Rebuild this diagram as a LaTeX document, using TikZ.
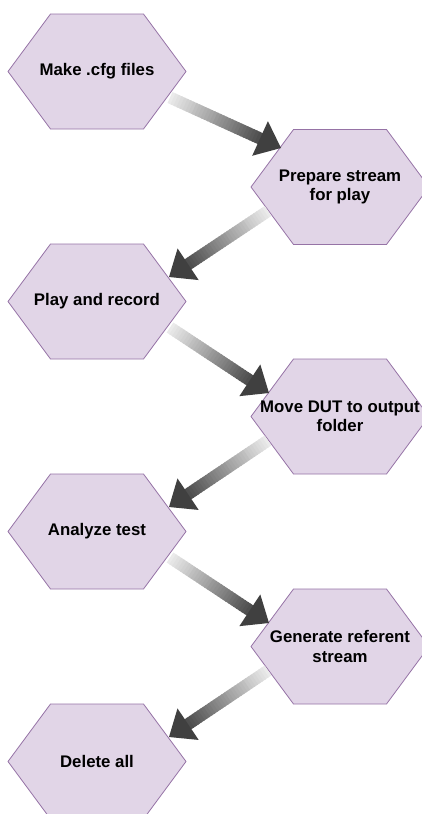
\documentclass[tikz,border=0pt]{standalone}
\usepackage{fontspec}
\setmainfont{Liberation Sans}
\usetikzlibrary{calc}

\definecolor{hexfill}{HTML}{E1D5E7}
\definecolor{hexline}{HTML}{9673A6}

% shaded block arrow: #1 = node, #2 = offset of the tail, #3 = node, #4 = offset of the tip
\newcommand{\flowarrow}[4]{%
  \coordinate (ta) at ($(#1)+(#2)$);
  \coordinate (tb) at ($(#3)+(#4)$);
  \coordinate (th) at ($(tb)!23pt!(ta)$);
  \foreach \i [evaluate=\i as \c using int(8+64*\i/30),
               evaluate=\i as \u using \i/30,
               evaluate=\i as \v using (\i+1.4)/30] in {0,...,29} {
    \coordinate (s0) at ($(ta)!\u!(th)$);
    \coordinate (s1) at ($(ta)!\v!(th)$);
    \fill [black!\c] ($(s0)!6pt!90:(tb)$) -- ($(s1)!6pt!90:(tb)$)
      -- ($(s1)!6pt!-90:(tb)$) -- ($(s0)!6pt!-90:(tb)$) -- cycle;
  }
  \fill [black!75] (tb) -- ($(th)!19pt!90:(tb)$) -- ($(th)!19pt!-90:(tb)$) -- cycle;
}

\begin{document}
\begin{tikzpicture}[x=1pt,y=-1pt,
  hexbox/.style={rectangle,minimum width=180pt,minimum height=117pt,inner sep=0pt,
    align=center,font=\fontsize{16.8}{19.5}\selectfont\bfseries,
    path picture={
      \filldraw [draw=hexline,fill=hexfill,line width=0.8pt]
        ([xshift=1pt]path picture bounding box.west)
        -- ([xshift=43.5pt,yshift=-1pt]path picture bounding box.north west)
        -- ([xshift=-43.5pt,yshift=-1pt]path picture bounding box.north east)
        -- ([xshift=-1pt]path picture bounding box.east)
        -- ([xshift=-43.5pt,yshift=1pt]path picture bounding box.south east)
        -- ([xshift=43.5pt,yshift=1pt]path picture bounding box.south west)
        -- cycle;
    }}]
\useasboundingbox (0,0) rectangle (422,814);
% steps
\node [hexbox] (make) at (97,71.5) {Make .cfg files};
\node [hexbox] (prepare) at (340,187) {Prepare stream\\for play};
\node [hexbox] (play) at (97,301.5) {Play and record};
\node [hexbox] (move) at (340,416.5) {Move DUT to output\\folder};
\node [hexbox] (analyze) at (97,531.5) {Analyze test};
\node [hexbox] (generate) at (340,646.5) {Generate referent\\stream};
\node [hexbox] (delete) at (97,761.5) {Delete all};
% arrows
\flowarrow{make}{73,26}{prepare}{-59,-39}
\flowarrow{prepare}{-72,24}{play}{72,-24.5}
\flowarrow{play}{73,26}{move}{-71,-23.5}
\flowarrow{move}{-72,24}{analyze}{72,-24.5}
\flowarrow{analyze}{73,26}{generate}{-71,-23.5}
\flowarrow{generate}{-72,24}{delete}{72,-24.5}
\end{tikzpicture}
\end{document}
